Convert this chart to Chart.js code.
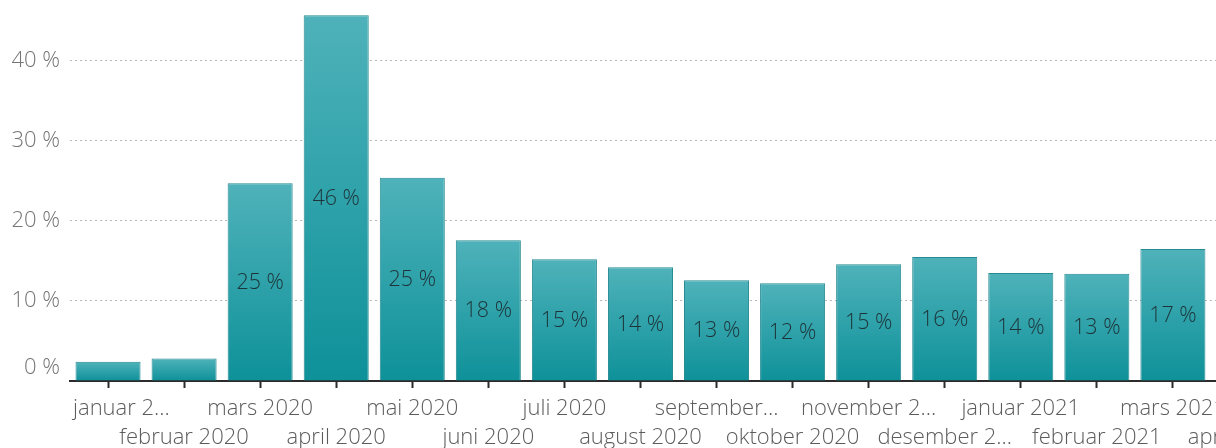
<!DOCTYPE html>
<html lang="no">
<head>
<meta charset="utf-8">
<title>Andel per måned</title>
<script src="https://cdn.jsdelivr.net/npm/chart.js@4/dist/chart.umd.min.js"></script>
<style>
  html, body { margin: 0; padding: 0; background: #ffffff; overflow: hidden; }
  #wrap { position: absolute; left: 0; top: 0; width: 1287px; height: 448px; }
</style>
</head>
<body>
<div id="wrap"><canvas id="chart"></canvas></div>
<script>
// Months shown on the x axis (long names are shortened the way they are printed)
const months = [
  'januar 2020', 'februar 2020', 'mars 2020', 'april 2020', 'mai 2020', 'juni 2020',
  'juli 2020', 'august 2020', 'september 2020', 'oktober 2020', 'november 2020',
  'desember 2020', 'januar 2021', 'februar 2021', 'mars 2021', 'april 2021'
];
const monthLabels = [
  'januar 2...', 'februar 2020', 'mars 2020', 'april 2020', 'mai 2020', 'juni 2020',
  'juli 2020', 'august 2020', 'september...', 'oktober 2020', 'november 2...',
  'desember 2...', 'januar 2021', 'februar 2021', 'mars 2021', 'april 2021'
];
// Share per month, in percent
const shares = [2.4, 2.8, 24.7, 45.7, 25.4, 17.6, 15.2, 14.2, 12.6, 12.2, 14.6, 15.5, 13.5, 13.4, 16.5, null];
// Value axis ticks, in percent
const yTicks = [0, 10, 20, 30, 40];
const yMax = 47.6;
// Values below this are too short to carry a label
const labelMin = 5;

const FONT = "'Open Sans', sans-serif";
Chart.defaults.font.family = FONT;

function barFill(ctx) {
  const chart = ctx.chart;
  const area = chart.chartArea;
  const v = ctx.raw;
  if (!area || v == null) return '#2ea3ab';
  const y = chart.scales.y;
  const top = y.getPixelForValue(v);
  const bottom = y.getPixelForValue(0);
  const g = chart.ctx.createLinearGradient(0, top, 0, bottom);
  g.addColorStop(0, '#4fb2ba');
  g.addColorStop(1, '#0e9199');
  return g;
}

// Labels inside bars, value-axis labels and staggered month labels
const textPlugin = {
  id: 'texts',
  afterDatasetsDraw(chart) {
    const c = chart.ctx;
    const meta = chart.getDatasetMeta(0);
    c.save();
    c.font = '300 21.5px ' + FONT;
    c.fillStyle = '#1d3338';
    c.textAlign = 'center';
    c.textBaseline = 'middle';
    meta.data.forEach((bar, i) => {
      const v = shares[i];
      if (v == null || v < labelMin) return;
      const yMid = (bar.y + bar.base) / 2 + 1;
      c.fillText(Math.round(v) + ' %', bar.x, yMid);
    });
    c.restore();
  },
  afterDraw(chart) {
    const c = chart.ctx;
    const area = chart.chartArea;
    const ys = chart.scales.y;
    const xs = chart.scales.x;
    c.save();
    // value axis
    c.font = '300 22px ' + FONT;
    c.fillStyle = '#757575';
    c.textAlign = 'right';
    c.textBaseline = 'middle';
    yTicks.forEach(v => {
      let py = ys.getPixelForValue(v);
      if (v === 0) py -= 13;
      c.fillText(v + ' %', area.left - 10, py);
    });
    // month axis, two alternating rows
    c.fillStyle = '#5c5c5c';
    c.textAlign = 'left';
    monthLabels.forEach((lab, i) => {
      const px = xs.getPixelForTick(i);
      const w = c.measureText(lab).width;
      let left = px - w / 2;
      if (left < area.left + 3) left = area.left + 3;
      if (left + w > area.right) left = area.right - w;
      const py = area.bottom + (i % 2 === 0 ? 28 : 57);
      c.fillText(lab, left, py);
    });
    c.restore();
  }
};

new Chart(document.getElementById('chart'), {
  type: 'bar',
  data: {
    labels: months,
    datasets: [{
      data: shares,
      backgroundColor: barFill,
      borderColor: '#258a91',
      borderWidth: 1,
      borderSkipped: 'start',
      categoryPercentage: 1,
      barPercentage: 0.855
    }]
  },
  options: {
    responsive: true,
    maintainAspectRatio: false,
    animation: false,
    layout: { padding: 0 },
    plugins: {
      legend: { display: false },
      tooltip: { enabled: false },
      title: { display: false }
    },
    scales: {
      x: {
        offset: true,
        afterFit(scale) { scale.height = 67; },
        ticks: { display: false, autoSkip: false },
        grid: {
          offset: false,
          drawOnChartArea: false,
          drawTicks: true,
          tickLength: 7,
          tickWidth: 2,
          tickColor: '#2b2b2b'
        },
        border: { display: true, color: '#2b2b2b', width: 2 }
      },
      y: {
        min: 0,
        max: yMax,
        afterFit(scale) { scale.width = 70; },
        afterBuildTicks(scale) { scale.ticks = yTicks.map(v => ({ value: v })); },
        ticks: { display: false },
        grid: {
          color: '#b8b8b8',
          lineWidth: 1,
          drawTicks: false
        },
        border: { display: false, dash: [2, 3] }
      }
    }
  },
  plugins: [textPlugin]
});
</script>
</body>
</html>
